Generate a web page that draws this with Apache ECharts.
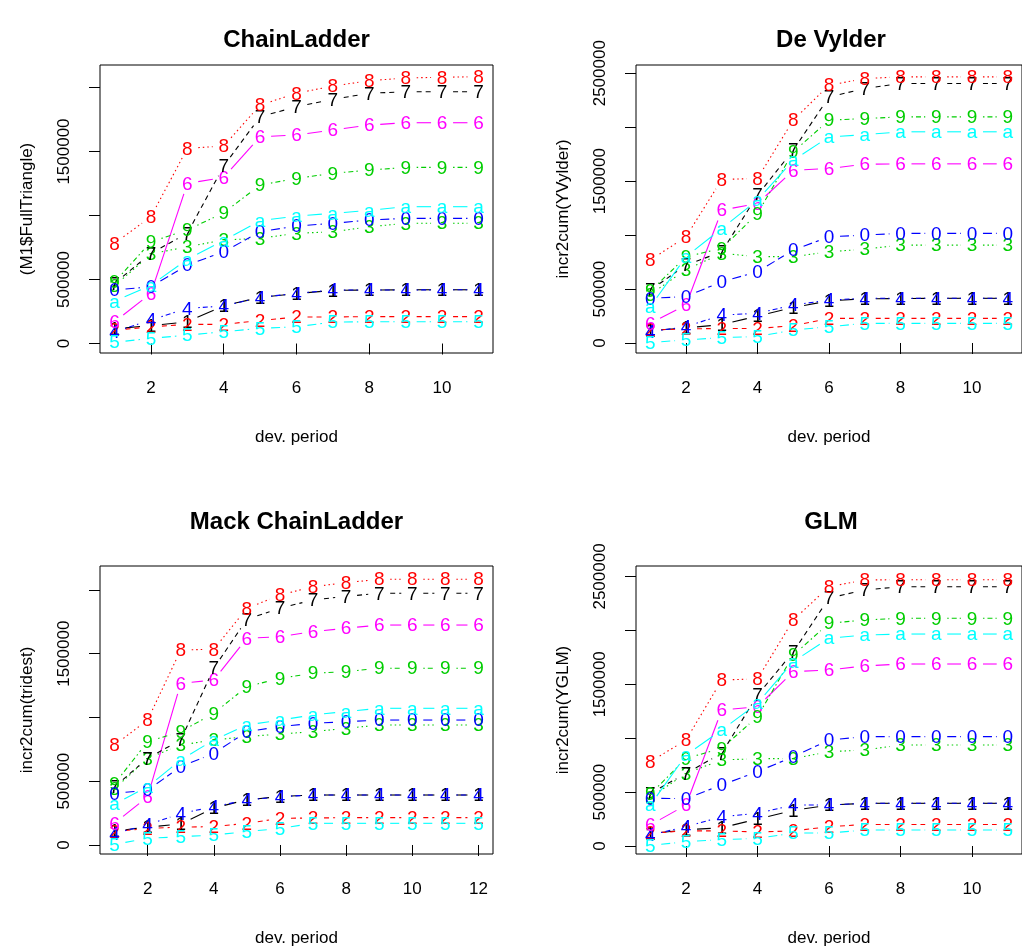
<!DOCTYPE html>
<html><head><meta charset="utf-8">
<script src="https://cdn.jsdelivr.net/npm/echarts@6/dist/echarts.min.js"></script>
<style>html,body{margin:0;padding:0;background:#fff;overflow:hidden}#c{width:1022px;height:949px}</style>
</head><body><div id="c"></div>
<script>
// ---------- data ----------
const DEV11 = [1,2,3,4,5,6,7,8,9,10,11];
const DEV12 = [1,2,3,4,5,6,7,8,9,10,11,12];
const X_TICKS_11 = [2,4,6,8,10];
const X_TICKS_12 = [2,4,6,8,10,12];
const Y_TICKS_2M = [0,500000,1000000,1500000,2000000];
const Y_LABELS_2M = [0,500000,1500000];
const Y_TICKS_25M = [0,500000,1000000,1500000,2000000,2500000];
const Y_LABELS_25M = [0,500000,1500000,2500000];
const SERIES_CHARS = ['1','2','3','4','5','6','7','8','9','0','a'];

// rows = origin periods 1..9,0,a ; columns = dev. period
const CHAINLADDER = [
  [115000,140000,170000,295000,360000,390000,415000,418000,420000,420000,420000],
  [105000,130000,150000,150000,180000,207000,208000,210000,210000,210000,210000],
  [450000,700000,756000,809000,822000,861000,873000,912000,939000,940000,940000],
  [92000,184000,275000,293000,361000,392000,418000,418000,418000,420000,420000],
  [10000,40000,66000,92000,119000,131000,168000,170000,170000,170000,170000],
  [170000,392000,1251000,1298000,1616000,1629000,1668000,1707000,1725000,1725000,1725000],
  [470000,705000,861000,1387000,1772000,1850000,1908000,1955000,1967000,1967000,1967000],
  [783000,991000,1525000,1543000,1863000,1955000,2012000,2053000,2075000,2080000,2085000],
  [480000,795000,887000,1022000,1238000,1290000,1330000,1355000,1376000,1376000,1376000],
  [418000,444000,613000,717000,873000,918000,939000,965000,978000,978000,978000],
  [330000,455000,658000,805000,960000,996000,1017000,1040000,1069000,1069000,1069000]
];
const DE_VYLDER = [
  [115000,140000,170000,250000,330000,390000,410000,412000,414000,414000,414000],
  [120000,130000,135000,135000,160000,228000,228000,228000,228000,228000,228000],
  [450000,680000,830000,800000,800000,845000,870000,907000,907000,907000,907000],
  [105000,151000,259000,275000,352000,398000,414000,414000,414000,414000,414000],
  [5000,28000,50000,60000,120000,151000,182000,182000,182000,182000,182000],
  [182000,352000,1231000,1293000,1600000,1617000,1657000,1660000,1660000,1660000,1660000],
  [490000,722000,845000,1370000,1787000,2280000,2358000,2405000,2405000,2405000,2405000],
  [769000,984000,1515000,1525000,2065000,2389000,2450000,2466000,2466000,2466000,2466000],
  [480000,799000,877000,1200000,1770000,2065000,2080000,2095000,2095000,2095000,2095000],
  [414000,430000,568000,660000,861000,984000,1000000,1016000,1016000,1016000,1016000],
  [336000,800000,1062000,1324000,1694000,1910000,1930000,1957000,1957000,1957000,1957000]
];
const MACK = [
  [110000,140000,165000,290000,355000,380000,392000,392000,392000,392000,392000,392000],
  [105000,130000,140000,144000,170000,209000,212000,214000,215000,215000,215000,215000],
  [440000,680000,784000,824000,850000,870000,889000,915000,941000,941000,941000,941000],
  [92000,157000,248000,300000,353000,379000,392000,392000,392000,392000,392000,392000],
  [5000,52000,65000,78000,105000,130000,170000,170000,170000,170000,170000,170000],
  [170000,379000,1268000,1294000,1621000,1634000,1673000,1700000,1725000,1725000,1725000,1725000],
  [457000,680000,824000,1386000,1770000,1857000,1922000,1950000,1974000,1974000,1974000,1974000],
  [784000,980000,1529000,1535000,1856000,1960000,2026000,2057000,2084000,2084000,2084000,2084000],
  [480000,810000,889000,1033000,1242000,1307000,1347000,1360000,1386000,1386000,1386000,1386000],
  [405000,430000,614000,719000,889000,928000,954000,967000,980000,980000,980000,980000],
  [320000,457000,667000,824000,941000,980000,1020000,1047000,1072000,1072000,1072000,1072000]
];
const GLM = [
  [115000,150000,170000,250000,330000,380000,396000,396000,396000,396000,396000],
  [120000,140000,140000,130000,140000,179000,200000,200000,200000,200000,200000],
  [450000,674000,798000,810000,810000,875000,890000,937000,937000,937000,937000],
  [102000,179000,272000,303000,380000,380000,396000,396000,396000,396000,396000],
  [5000,40000,60000,70000,120000,120000,148000,148000,148000,148000,148000],
  [195000,380000,1262000,1292000,1617000,1633000,1670000,1688000,1688000,1688000,1688000],
  [489000,674000,860000,1400000,1800000,2300000,2375000,2405000,2405000,2405000,2405000],
  [782000,983000,1540000,1550000,2096000,2405000,2467000,2470000,2470000,2470000,2470000],
  [480000,813000,906000,1200000,1770000,2066000,2096000,2112000,2112000,2112000,2112000],
  [442000,440000,566000,690000,828000,983000,1014000,1014000,1014000,1014000,1014000],
  [380000,844000,1076000,1324000,1710000,1927000,1957000,1966000,1966000,1966000,1966000]
];

// ---------- styling / layout ----------
const COLORS = ['#000000','#FF0000','#00CD00','#0000FF','#00FFFF','#FF00FF'];
const DASHES = [null,[5,4],[1.5,3],[1.5,3,5,3],[9,4]];
const FONT = '"Liberation Sans", Arial, sans-serif';
const GAP = 11;

const PANELS = [
  {title:'ChainLadder', yName:'(M1$FullTriangle)', values:CHAINLADDER, dev:DEV11, xTicks:X_TICKS_11,
   yTicks:Y_TICKS_2M, yLabels:Y_LABELS_2M, grid:{left:100,top:65,width:393,height:288}, titleTop:28,
   xMin:0.6, xMax:11.4, yMin:-74000, yMax:2176000},
  {title:'De Vylder', yName:'incr2cum(YVylder)', values:DE_VYLDER, dev:DEV11, xTicks:X_TICKS_11,
   yTicks:Y_TICKS_25M, yLabels:Y_LABELS_25M, grid:{left:636,top:65,width:390,height:288}, titleTop:28,
   xMin:0.6, xMax:11.4, yMin:-92700, yMax:2576000},
  {title:'Mack ChainLadder', yName:'incr2cum(tridest)', values:MACK, dev:DEV12, xTicks:X_TICKS_12,
   yTicks:Y_TICKS_2M, yLabels:Y_LABELS_2M, grid:{left:100,top:566,width:393,height:288}, titleTop:510,
   xMin:0.56, xMax:12.44, yMin:-70600, yMax:2188000},
  {title:'GLM', yName:'incr2cum(YGLM)', values:GLM, dev:DEV11, xTicks:X_TICKS_11,
   yTicks:Y_TICKS_25M, yLabels:Y_LABELS_25M, grid:{left:636,top:566,width:390,height:288}, titleTop:510,
   xMin:0.6, xMax:11.4, yMin:-74200, yMax:2597000}
];

const grids=[], xAxes=[], yAxes=[], titles=[], series=[];
PANELS.forEach((p, pi) => {
  grids.push(Object.assign({show:true, borderColor:'#000', borderWidth:1, backgroundColor:'transparent'}, p.grid));
  titles.push({text:p.title, left:p.grid.left + p.grid.width/2, top:p.titleTop, textAlign:'center', padding:0,
    textStyle:{fontFamily:FONT, fontWeight:'bold', fontSize:24, color:'#000'}});
  xAxes.push({gridIndex:pi, type:'value', min:p.xMin, max:p.xMax,
    axisLine:{show:false}, splitLine:{show:false},
    axisTick:{show:true, length:11, customValues:p.xTicks, lineStyle:{color:'#000', width:1}},
    axisLabel:{customValues:p.xTicks, fontFamily:FONT, fontSize:17, color:'#000', margin:27, formatter:v=>String(v)},
    name:'dev. period', nameLocation:'middle', nameGap:76,
    nameTextStyle:{fontFamily:FONT, fontSize:17, color:'#000'}});
  yAxes.push({gridIndex:pi, type:'value', min:p.yMin, max:p.yMax,
    axisLine:{show:false}, splitLine:{show:false},
    axisTick:{show:true, length:11, customValues:p.yTicks, lineStyle:{color:'#000', width:1}},
    axisLabel:{customValues:p.yLabels, rotate:90, fontFamily:FONT, fontSize:17, color:'#000', margin:27, formatter:v=>String(v)},
    name:p.yName, nameLocation:'middle', nameRotate:90, nameGap:64,
    nameTextStyle:{fontFamily:FONT, fontSize:17, color:'#000'}});
  p.values.forEach((row, si) => {
    const color = COLORS[si % COLORS.length];
    const dash = DASHES[si % DASHES.length];
    const ch = SERIES_CHARS[si];
    series.push({
      type:'custom', xAxisIndex:pi, yAxisIndex:pi, clip:false, silent:true,
      data: p.dev.map((d, k) => [d, row[k]]),
      renderItem: (params, api) => {
        const k = params.dataIndex;
        const pt = api.coord([api.value(0), api.value(1)]);
        const children = [];
        if (k < row.length - 1) {
          const q = api.coord([p.dev[k+1], row[k+1]]);
          const dx = q[0]-pt[0], dy = q[1]-pt[1], L = Math.hypot(dx, dy);
          if (L > 2*GAP) {
            const ux = dx/L, uy = dy/L;
            children.push({type:'line', shape:{x1:pt[0]+ux*GAP, y1:pt[1]+uy*GAP, x2:q[0]-ux*GAP, y2:q[1]-uy*GAP},
              style:{stroke:color, lineWidth:1.1, lineDash:dash || null, fill:null}});
          }
        }
        children.push({type:'text', x:pt[0], y:pt[1]+1,
          style:{text:ch, fill:color, font:'19px ' + FONT, align:'center', verticalAlign:'middle'}});
        return {type:'group', children};
      }
    });
  });
});

const chart = echarts.init(document.getElementById('c'), null, {renderer:'canvas'});
chart.setOption({animation:false, backgroundColor:'#fff', title:titles, grid:grids, xAxis:xAxes, yAxis:yAxes, series});
</script></body></html>
